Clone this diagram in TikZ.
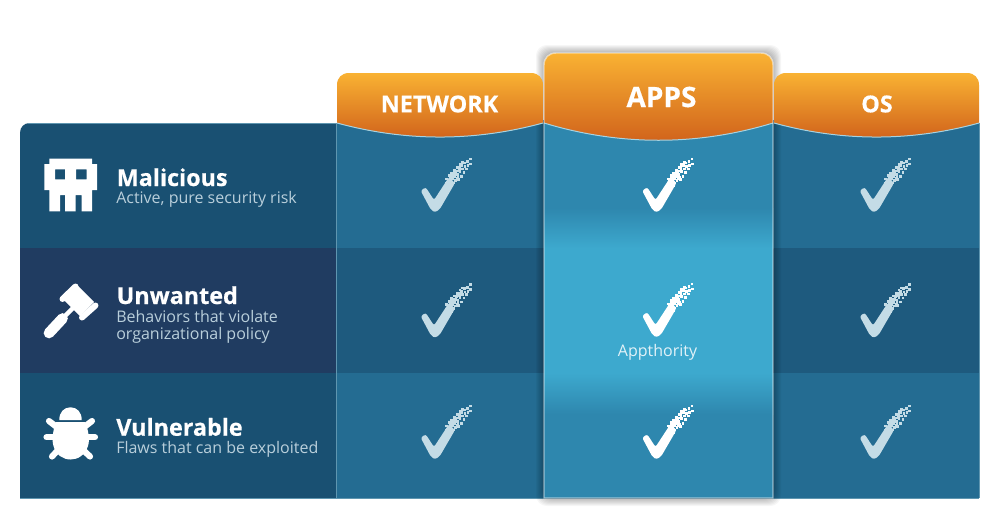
\documentclass[tikz,border=0pt]{standalone}
\usepackage{fontspec}
\setmainfont{Open Sans}
\newfontfamily\heavyfont[FakeBold=0.5]{Open Sans Bold}
\definecolor{rowa}{HTML}{195072}
\definecolor{rowb}{HTML}{203C61}
\definecolor{cola}{HTML}{246C92}
\definecolor{colb}{HTML}{1E5A7E}
\definecolor{appa}{HTML}{2E87AE}
\definecolor{appb}{HTML}{3DA9CE}
\definecolor{hdrtop}{HTML}{F9B233}
\definecolor{hdrbot}{HTML}{CF5F1A}
\definecolor{subtxt}{HTML}{B9CFDB}
\definecolor{chkcol}{HTML}{C4DCE6}
\definecolor{seam}{HTML}{5F96B0}
\definecolor{arcline}{HTML}{A5D3E2}
\tikzset{
  x=0.75pt,y=-0.75pt,
  title/.style={anchor=base west,inner sep=0pt,text=white,font=\fontsize{17.5}{20}\heavyfont\selectfont},
  subtitle/.style={anchor=base west,inner sep=0pt,text=subtxt,font=\fontsize{12}{15}\selectfont},
  headlabel/.style={inner sep=0pt,text=white,font=\fontsize{#1}{20}\heavyfont\selectfont},
  glyph/.style={fill=white,draw=none},
  limb/.style={draw=white,line cap=round,line width=4.6pt},
  seamline/.style={draw=seam,line width=0.75pt},
  pics/chkmark/.style={code={
    \fill[#1,rounded corners=1.6pt] (0.7,0.7) -- (5.7,-2.7) -- (14,10) -- (29,-13) -- (35,-7) -- (19.7,19.3) -- (15,22.3) -- (11,20) -- cycle;
    \foreach \zx/\zy in {183/26,174/34,184/41,165/38,157/46,167/48,176/46,150/52,160/56,143/62,152/64,135/70,144/72,128/76,136/80,146/80,122/84,130/86,138/90,116/92,124/94,132/98,112/100,120/102,128/106,137/76,143/84,130/78,150/60,140/68,122/92,116/98,112/86,120/76,127/68,136/60,144/52,152/42,160/36,148/88,156/78,164/66,172/56}
      \fill[#1] ({\zx/3-12},{\zy/3-41}) rectangle +(2.7,2.7);
  }}
}
\newcommand{\hdrshape}[4]{(#1,123) -- (#1,{#3+#4}) .. controls (#1,{#3+#4*0.4}) and ({#1+#4*0.4},#3) .. ({#1+#4},#3) -- ({#2-#4},#3) .. controls ({#2-#4*0.4},#3) and (#2,{#3+#4*0.4}) .. (#2,{#3+#4}) -- (#2,123)}
\begin{document}
\begin{tikzpicture}
\useasboundingbox (0,0) rectangle (1000,515);
\fill[white] (0,0) rectangle (1000,515);
% left panel
\fill[rowa] (20,248) -- (20,133) .. controls (20,127) and (24,123) .. (30,123) -- (337,123) -- (337,248) -- cycle;
\fill[rowb] (20,248) rectangle (337,373);
\fill[rowa] (20,373) rectangle (337,498);
\draw[draw=seam,line width=0.6pt] (28,123) -- (337,123);
\draw[draw=seam,line width=0.6pt] (20,498) -- (337,498);
% network and OS columns
\fill[cola] (337,120) rectangle (544,248);
\fill[colb] (337,248) rectangle (544,373);
\fill[cola] (337,373) rectangle (544,498);
\fill[cola] (773,120) rectangle (979,248);
\fill[colb] (773,248) rectangle (979,373);
\fill[cola] (773,373) rectangle (979,498);
\draw[seamline] (336.5,123) -- (336.5,498);
\draw[seamline] (979,123) -- (979,498);
\draw[draw=seam,line width=0.6pt] (337,498) -- (979,498);
% apps shadow
\foreach \s in {1,...,8}
  \fill[black,opacity=0.035,rounded corners=8pt] ({544-\s},{53-\s}) rectangle ({773+\s},{498+\s});
% apps column
\fill[appa] (544,120) rectangle (773,208);
\shade[top color=appa,bottom color=appb] (544,208) rectangle (773,248);
\fill[appb] (544,248) rectangle (773,373);
\shade[top color=appb,bottom color=appa] (544,373) rectangle (773,414);
\fill[appa] (544,414) rectangle (773,498);
% headers
\shade[top color=hdrtop,bottom color=hdrbot] \hdrshape{337}{543}{73}{12} .. controls (474,141.7) and (406,141.7) .. (337,123) -- cycle;
\shade[top color=hdrtop,bottom color=hdrbot] \hdrshape{544}{773}{53}{12} .. controls (697,146) and (620,146) .. (544,123) -- cycle;
\shade[top color=hdrtop,bottom color=hdrbot] \hdrshape{774}{979}{73}{12} .. controls (911,141.7) and (842,141.7) .. (774,123) -- cycle;
\draw[arcline,line width=0.75pt] (337,123) .. controls (406,141.7) and (474,141.7) .. (543,123);
\draw[arcline,line width=0.75pt] (544,123) .. controls (620,146) and (697,146) .. (773,123);
\draw[arcline,line width=0.75pt] (774,123) .. controls (842,141.7) and (911,141.7) .. (979,123);
% apps border
\draw[white,opacity=0.5,line width=1.1pt] \hdrshape{544}{773}{53}{12} -- (773,498) -- (544,498) -- cycle;
% header labels
\node[headlabel=17.5] (net) at (439.5,104) {NETWORK};
\node[headlabel=21] (apps) at (661.5,97) {APPS};
\node[headlabel=17.5] (os) at (877,104) {OS};
% row titles
\node[title] (mal) at (116.5,186) {Malicious};
\node[subtitle] (mals) at (116,203.3) {Active, pure security risk};
\node[title] (unw) at (116.5,304) {Unwanted};
\node[subtitle] (unws) at (116,322.7) {Behaviors that violate};
\node[subtitle] (unwt) at (116,339) {organizational policy};
\node[title] (vul) at (116,435.7) {Vulnerable};
\node[subtitle] (vuls) at (116,453.3) {Flaws that can be exploited};
\node[inner sep=0pt,text=white!85!appb,font=\fontsize{12}{15}\selectfont] (appth) at (657.5,352.5) {Appthority};
% skull
\fill[glyph,even odd rule] (49.3,158.7) -- (92,158.7) -- (92,164) -- (97,164) -- (97,190) -- (92,190) -- (92,211.3) -- (81.7,211.3) -- (81.7,195) -- (75.7,195) -- (75.7,211.3) -- (65,211.3) -- (65,195) -- (60,195) -- (60,211.3) -- (49.3,211.3) -- (49.3,190) -- (44.3,190) -- (44.3,164) -- (49.3,164) -- cycle
  (55,169.3) rectangle (65,179.3) (76,169.3) rectangle (86.7,179.3);
% gavel
\draw[white,line width=15pt] (71,293) -- (87,309);
\draw[white,line width=4.5pt,line cap=round] (75.5,286.5) -- (62.5,299);
\draw[white,line width=4.5pt,line cap=round] (95.5,305.5) -- (82,317.5);
\draw[white,line width=3.2pt] (77,304) -- (60,321);
\draw[white,line width=8pt,line cap=round] (62.5,318.5) -- (49,333);
% bug
\fill[glyph] (59.3,420) .. controls (59.3,412) and (64,407.3) .. (70.5,407.3) .. controls (77,407.3) and (81.7,412) .. (81.7,420) -- cycle;
\fill[glyph] (56,422) -- (85,422) .. controls (88.5,430) and (90,440) .. (88,446) .. controls (85,455) and (78,459.5) .. (70.7,459.5) .. controls (63,459.5) and (56,455) .. (53.5,446) .. controls (51.5,440) and (53,430) .. (56,422) -- cycle;
\draw[limb] (49,421) -- (58,428);
\draw[limb] (92,421) -- (83,428);
\draw[limb] (46.5,437.3) -- (60,437.3);
\draw[limb] (95,437.3) -- (81,437.3);
\draw[limb] (52,456.5) -- (60,448);
\draw[limb] (90,456.5) -- (81,448);
% checks
\foreach \cx/\cy/\cc in {420/190/chkcol,420/315.5/chkcol,420/437/chkcol,641.5/190/white,641.5/315/white,641.5/437/white,859/190/chkcol,859/315.5/chkcol,859/437/chkcol}
  \pic at (\cx,\cy) {chkmark=\cc};
\end{tikzpicture}
\end{document}
